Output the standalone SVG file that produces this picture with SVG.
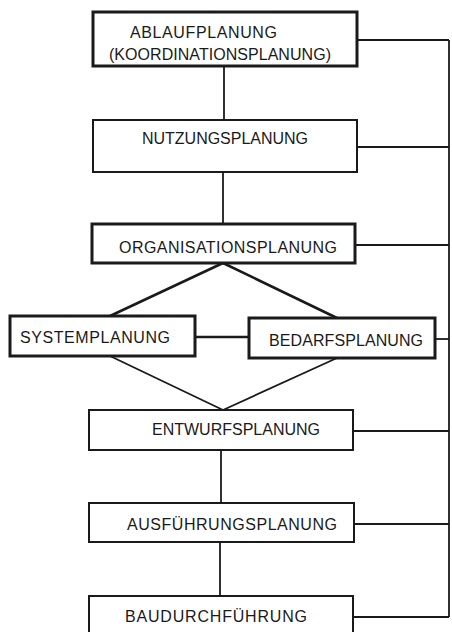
<svg xmlns="http://www.w3.org/2000/svg" width="452" height="632" viewBox="0 0 452 632">
<style>
.bg{fill:#ffffff}
.box{fill:#ffffff;stroke:#1a1a1a;stroke-width:2}
.thick{stroke-width:3}
.lbl{font-family:"Liberation Sans",Arial,sans-serif;font-size:16px;fill:#1a1a1a}
.c{fill:none;stroke:#1a1a1a;stroke-width:1.8}
.d{fill:none;stroke:#1a1a1a;stroke-width:2.6}
</style>
<rect class="bg" x="0" y="0" width="452" height="632"/>
<g id="connectors">
<line class="c" x1="224" y1="66" x2="224" y2="120"/>
<line class="c" x1="223" y1="172" x2="223" y2="224"/>
<line class="c" x1="221" y1="450" x2="221" y2="503"/>
<line class="c" x1="220" y1="542" x2="220" y2="596"/>
<line class="d" x1="223" y1="263" x2="110" y2="316"/>
<line class="d" x1="223" y1="263" x2="337" y2="318"/>
<line class="c" x1="110" y1="356" x2="223" y2="410"/>
<line class="c" x1="337" y1="358" x2="223" y2="410"/>
<line class="d" x1="195" y1="337" x2="249" y2="337"/>
<line class="c" x1="449" y1="40" x2="449" y2="617"/>
<line class="c" x1="357" y1="40" x2="449" y2="40"/>
<line class="c" x1="357" y1="147" x2="449" y2="147"/>
<line class="c" x1="355" y1="245" x2="449" y2="245"/>
<line class="c" x1="435" y1="339" x2="449" y2="339"/>
<line class="c" x1="353" y1="431" x2="449" y2="431"/>
<line class="c" x1="354" y1="524" x2="449" y2="524"/>
<line class="c" x1="353" y1="617" x2="449" y2="617"/>
</g>
<g id="ablaufplanung">
<rect class="box thick" x="93" y="12" width="264" height="54"/>
<text class="lbl" x="130" y="38" textLength="147" lengthAdjust="spacing">ABLAUFPLANUNG</text>
<text class="lbl" x="109" y="60" textLength="222" lengthAdjust="spacing">(KOORDINATIONSPLANUNG)</text>
</g>
<g id="nutzungsplanung">
<rect class="box" x="93" y="120" width="264" height="52"/>
<text class="lbl" x="142" y="144" textLength="166" lengthAdjust="spacing">NUTZUNGSPLANUNG</text>
</g>
<g id="organisationsplanung">
<rect class="box thick" x="92" y="224" width="263" height="39"/>
<text class="lbl" x="119" y="253" textLength="218" lengthAdjust="spacing">ORGANISATIONSPLANUNG</text>
</g>
<g id="systemplanung">
<rect class="box thick" x="10" y="316" width="185" height="40"/>
<text class="lbl" x="20" y="343" textLength="150" lengthAdjust="spacing">SYSTEMPLANUNG</text>
</g>
<g id="bedarfsplanung">
<rect class="box thick" x="249" y="318" width="186" height="40"/>
<text class="lbl" x="269" y="346" textLength="154" lengthAdjust="spacing">BEDARFSPLANUNG</text>
</g>
<g id="entwurfsplanung">
<rect class="box" x="89" y="410" width="264" height="40"/>
<text class="lbl" x="152" y="435" textLength="168" lengthAdjust="spacing">ENTWURFSPLANUNG</text>
</g>
<g id="ausfuehrungsplanung">
<rect class="box" x="89" y="503" width="265" height="39"/>
<text class="lbl" x="127" y="530" textLength="210" lengthAdjust="spacing">AUSFÜHRUNGSPLANUNG</text>
</g>
<g id="baudurchfuehrung">
<rect class="box" x="89" y="596" width="264" height="44"/>
<text class="lbl" x="125" y="622" textLength="182" lengthAdjust="spacing">BAUDURCHFÜHRUNG</text>
</g>
</svg>
